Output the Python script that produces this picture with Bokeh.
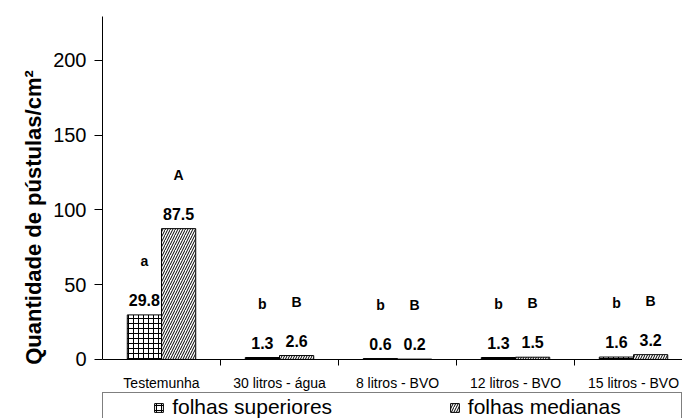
from bokeh.plotting import figure
from bokeh.models import Range1d, FixedTicker, Legend, LegendItem, ColumnDataSource
from bokeh.core.properties import value
from bokeh.embed import file_html
from bokeh.resources import INLINE

categories = ["Testemunha", "30 litros - água", "8 litros - BVO", "12 litros - BVO", "15 litros - BVO"]
superiores = [29.8, 1.3, 0.6, 1.3, 1.6]
medianas = [87.5, 2.6, 0.2, 1.5, 3.2]
letras_sup = ["a", "b", "b", "b", "b"]
letras_med = ["A", "B", "B", "B", "B"]
y_ticks = [0, 50, 100, 150, 200]
series_names = ["folhas superiores", "folhas medianas"]

FONT = "Liberation Sans"
BW = 0.29
NB = "\u00a0"
Y_TOP = 229.4

centers = [i + 0.5 for i in range(len(categories))]
x_sup = [c - BW / 2 for c in centers]
x_med = [c + BW / 2 for c in centers]

src_sup = ColumnDataSource(dict(x=x_sup, top=superiores, lab=[f"{v:.1f}" for v in superiores], let=letras_sup))
src_med = ColumnDataSource(dict(x=x_med, top=medianas, lab=[f"{v:.1f}" for v in medianas], let=letras_med))

p = figure(width=682, height=418, output_backend="svg", toolbar_location=None,
           x_range=Range1d(0, 4.915), y_range=Range1d(-39.5, Y_TOP),
           min_border_left=102, min_border_top=16, min_border_right=0, min_border_bottom=0)
p.outline_line_color = None
p.xgrid.visible = False
p.ygrid.visible = False
p.background_fill_color = "white"
p.border_fill_color = "white"

dummy = p.vbar(x=[0], top=[0], width=0.001, fill_alpha=0, line_alpha=0)
r1 = p.vbar(x="x", top="top", width=BW, source=src_sup, fill_color="white", line_color="black",
            line_width=1, hatch_pattern="+", hatch_color="black", hatch_scale=5, hatch_weight=1)
r2 = p.vbar(x="x", top="top", width=BW, source=src_med, fill_color="white", line_color="black",
            line_width=1, hatch_pattern="/", hatch_color="black", hatch_scale=5, hatch_weight=1)

for src in (src_sup, src_med):
    p.text(x="x", y="top", text="lab", source=src, text_align="center", text_baseline="bottom",
           y_offset=-9, text_font=value(FONT), text_font_style="bold", text_font_size="16px",
           text_color="black")
    p.text(x="x", y="top", text="let", source=src, text_align="center", text_baseline="bottom",
           y_offset=-46, text_font=value(FONT), text_font_style="bold", text_font_size="14px",
           text_color="black")

# axes
ya = p.yaxis[0]
ya.ticker = FixedTicker(ticks=y_ticks, minor_ticks=[])
ya.bounds = (0, Y_TOP)
ya.major_tick_out = 8
ya.major_tick_in = 0
ya.major_label_standoff = 8
ya.major_label_text_font = FONT
ya.major_label_text_font_size = "20px"
ya.major_label_text_color = "black"
ya.axis_line_color = "black"
ya.major_tick_line_color = "black"
ya.axis_label = "Quantidade de pústulas/cm²"
ya.axis_label_text_font = FONT
ya.axis_label_text_font_style = "bold"
ya.axis_label_text_font_size = "22px"
ya.axis_label_text_color = "black"
ya.axis_label_standoff = 4

xa = p.xaxis[0]
xa.fixed_location = 0
xa.ticker = FixedTicker(ticks=centers, minor_ticks=[1, 2, 3, 4])
xa.major_label_overrides = {c: n for c, n in zip(centers, categories)}
xa.major_tick_out = 6
xa.major_tick_in = 0
xa.major_tick_line_color = None
xa.minor_tick_out = 6
xa.minor_tick_in = 0
xa.minor_tick_line_color = "black"
xa.major_label_standoff = 10
xa.major_label_text_font = FONT
xa.major_label_text_font_size = "14px"
xa.major_label_text_color = "black"
xa.axis_line_color = "black"

legend = Legend(items=[LegendItem(label=NB * 5, renderers=[dummy]),
                       LegendItem(label=series_names[0] + NB * 20, renderers=[r1]),
                       LegendItem(label=series_names[1] + NB * 10, renderers=[r2])],
                orientation="horizontal", location=(0, -4), padding=2, spacing=0,
                glyph_width=11, glyph_height=11, label_standoff=8, label_height=20,
                label_width=0, label_text_font=FONT, label_text_font_size="21px",
                label_text_color="black", margin=0,
                border_line_color="black", border_line_width=1,
                background_fill_color="white", background_fill_alpha=1)
p.add_layout(legend, "center")

open("out.html", "w").write(file_html(p, INLINE))
